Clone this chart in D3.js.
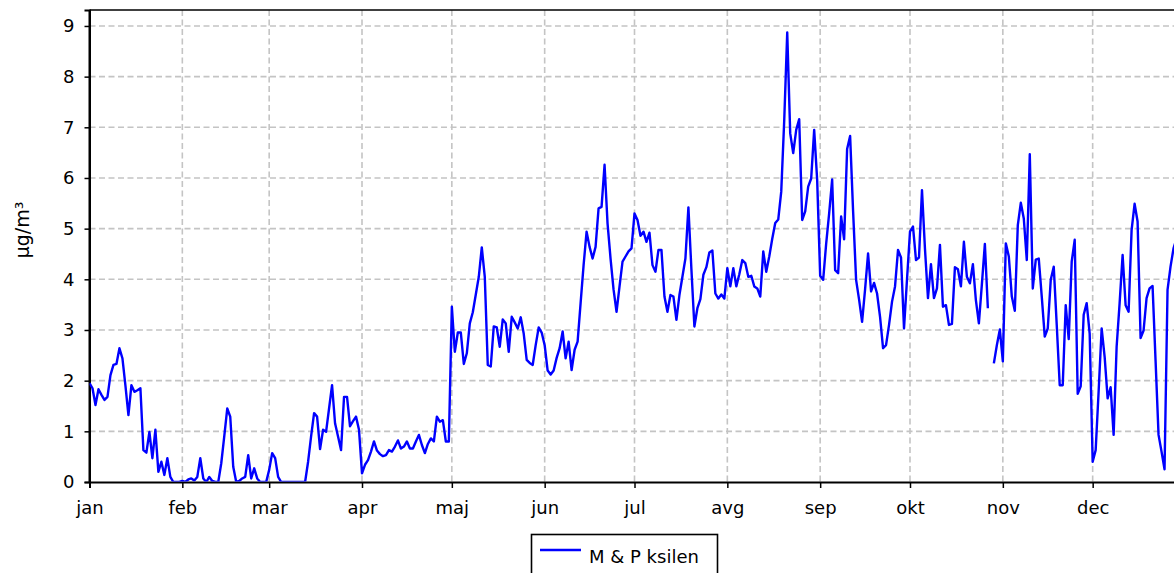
<!DOCTYPE html>
<html><head><meta charset="utf-8">
<script src="https://cdn.jsdelivr.net/npm/d3@7"></script>
<style>body{margin:0;background:#fff}svg{display:block}text{font-family:"DejaVu Sans",sans-serif;fill:#000}</style>
</head><body><svg id="c" width="1174" height="573"></svg>
<script>
const year = 2020;
const monthLabels = ["jan","feb","mar","apr","maj","jun","jul","avg","sep","okt","nov","dec"];
const yTicks = [0,1,2,3,4,5,6,7,8,9];
const seriesName = "M & P ksilen";
const yTitle = "µg/m³";
// daily values per month (µg/m³), null = missing
const jan = [1.95,1.85,1.52,1.83,1.72,1.62,1.68,2.11,2.31,2.33,2.64,2.44,1.9,1.32,1.91,1.78,1.81,1.85,0.63,0.58,0.99,0.47,1.03,0.2,0.4,0.14,0.47,0.1,0,0,0];
const feb = [0.02,0,0.05,0.07,0.03,0.1,0.47,0.07,0,0.1,0.02,0,0,0.37,0.9,1.45,1.29,0.3,0,0.02,0.07,0.1,0.53,0.07,0.27,0.07,0,0,0];
const mar = [0.24,0.57,0.47,0.1,0,0,0,0,0,0,0,0,0,0.4,0.9,1.36,1.29,0.65,1.03,0.99,1.45,1.91,1.16,0.9,0.63,1.68,1.68,1.1,1.2,1.29,1.03];
const apr = [0.17,0.34,0.43,0.6,0.8,0.62,0.55,0.51,0.53,0.63,0.6,0.7,0.82,0.66,0.7,0.8,0.66,0.66,0.8,0.93,0.73,0.57,0.75,0.86,0.8,1.29,1.19,1.22,0.8,0.8];
const maj = [3.46,2.57,2.95,2.95,2.33,2.54,3.13,3.35,3.7,4.05,4.63,4.05,2.31,2.28,3.07,3.05,2.67,3.21,3.13,2.57,3.26,3.15,3.03,3.25,2.93,2.41,2.35,2.31,2.7,3.05,2.95];
const jun = [2.7,2.2,2.12,2.2,2.45,2.64,2.97,2.44,2.77,2.21,2.61,2.77,3.53,4.28,4.94,4.64,4.41,4.64,5.4,5.43,6.26,5.1,4.41,3.8,3.36,3.86,4.35,4.45,4.55,4.61];
const jul = [5.3,5.17,4.86,4.94,4.74,4.92,4.28,4.15,4.58,4.58,3.66,3.36,3.69,3.66,3.2,3.69,4.05,4.41,5.42,4.2,3.07,3.43,3.61,4.09,4.24,4.53,4.57,3.72,3.62,3.7,3.62];
const avg = [4.22,3.86,4.22,3.86,4.1,4.38,4.32,4.05,4.07,3.86,3.82,3.66,4.55,4.15,4.45,4.8,5.11,5.18,5.73,7.14,8.87,6.88,6.49,6.95,7.16,5.17,5.34,5.83,5.99,6.95,5.96];
const sep = [4.07,3.99,4.7,5.3,5.97,4.18,4.12,5.24,4.79,6.57,6.83,5.34,3.99,3.6,3.16,3.8,4.51,3.76,3.93,3.72,3.26,2.64,2.7,3.1,3.56,3.86,4.58,4.43,3.03,4.0];
const okt = [4.94,5.04,4.38,4.43,5.76,4.6,3.63,4.3,3.63,3.82,4.68,3.46,3.49,3.1,3.12,4.24,4.2,3.86,4.74,4.05,3.92,4.3,3.59,3.13,3.9,4.7,3.43,null,2.34,2.7,3.01];
const nov = [2.38,4.71,4.45,3.66,3.38,5.07,5.51,5.2,4.38,6.47,3.82,4.39,4.41,3.66,2.87,3.03,3.99,4.25,3.1,1.91,1.91,3.49,2.82,4.35,4.78,1.74,1.89,3.3,3.53,2.93];
const dec = [0.4,0.63,1.8,3.03,2.47,1.65,1.87,0.93,2.67,3.53,4.48,3.49,3.36,4.97,5.49,5.14,2.84,2.99,3.63,3.82,3.87,2.4,0.93,0.6,0.25,3.79,4.25,4.61,4.8,4.5,4.3];

const values = [].concat(jan,feb,mar,apr,maj,jun,jul,avg,sep,okt,nov,dec);
const data = values.map((v,i)=>({date:new Date(year,0,1+i), v}));

const svg = d3.select("#c");
const L = 89.5, T = 10, B = 482, R = 1185.5;
const x = d3.scaleTime().domain([new Date(year,0,1), new Date(year+1,0,1)]).range([L,R]);
const y = d3.scaleLinear().domain([0, 9.315]).range([B,T]);
const months = d3.timeMonth.range(new Date(year,0,1), new Date(year+1,0,1));

svg.append("rect").attr("width",1174).attr("height",573).attr("fill","#fff");

// grid
const grid = svg.append("g").attr("stroke","#c4c4c4").attr("stroke-width",1.6).attr("stroke-dasharray","6,3.5");
grid.selectAll(".h").data(yTicks.filter(d=>d>0)).join("line")
  .attr("x1",L).attr("x2",R).attr("y1",d=>y(d)).attr("y2",d=>y(d));
grid.selectAll(".v").data(months.slice(1)).join("line")
  .attr("x1",d=>x(d)).attr("x2",d=>x(d)).attr("y1",T).attr("y2",B);

// axes
const xAxis = d3.axisBottom(x).tickValues(months).tickSize(6).tickFormat((d,i)=>monthLabels[i]);
const gx = svg.append("g").attr("transform",`translate(0,${B})`).call(xAxis);
gx.select(".domain").attr("stroke","#000").attr("stroke-width",2);
gx.selectAll(".tick line").attr("stroke","#000").attr("stroke-width",1.5);
gx.selectAll(".tick text").attr("font-size",18).attr("y",0).attr("dy",32).attr("font-family","DejaVu Sans");

const yAxis = d3.axisLeft(y).tickValues(yTicks).tickSize(5).tickFormat(d3.format("d"));
const gy = svg.append("g").attr("transform",`translate(${L},0)`).call(yAxis);
gy.select(".domain").attr("stroke","#000").attr("stroke-width",2);
gy.selectAll(".tick line").attr("stroke","#000").attr("stroke-width",1.5);
gy.selectAll(".tick text").attr("font-size",18).attr("x",-15).attr("font-family","DejaVu Sans");

// top border
svg.append("line").attr("x1",L).attr("x2",R).attr("y1",T).attr("y2",T).attr("stroke","#000").attr("stroke-width",1.6);
svg.append("line").attr("x1",L).attr("x2",L).attr("y1",T).attr("y2",B).attr("stroke","#000").attr("stroke-width",2);

// line
svg.append("clipPath").attr("id","cp").append("rect").attr("x",L).attr("y",0).attr("width",R-L).attr("height",B-0.5);
const line = d3.line().defined(d=>d.v!=null).x(d=>x(d.date)).y(d=>y(d.v));
svg.append("path").datum(data).attr("clip-path","url(#cp)").attr("d",line)
  .attr("fill","none").attr("stroke","#0000ff").attr("stroke-width",2.4).attr("stroke-linejoin","round");

// y title
svg.append("text").attr("transform","translate(29,230) rotate(-90)").attr("text-anchor","middle")
  .attr("font-size",19).text(yTitle);

// legend
const lg = svg.append("g");
lg.append("rect").attr("x",531.5).attr("y",534.5).attr("width",186).attr("height",60)
  .attr("fill","#fff").attr("stroke","#000").attr("stroke-width",1.6);
lg.append("line").attr("x1",540).attr("x2",581).attr("y1",550).attr("y2",550).attr("stroke","#0000ff").attr("stroke-width",2.4);
lg.append("text").attr("x",589).attr("y",563).attr("font-size",18).text(seriesName);
</script></body></html>
